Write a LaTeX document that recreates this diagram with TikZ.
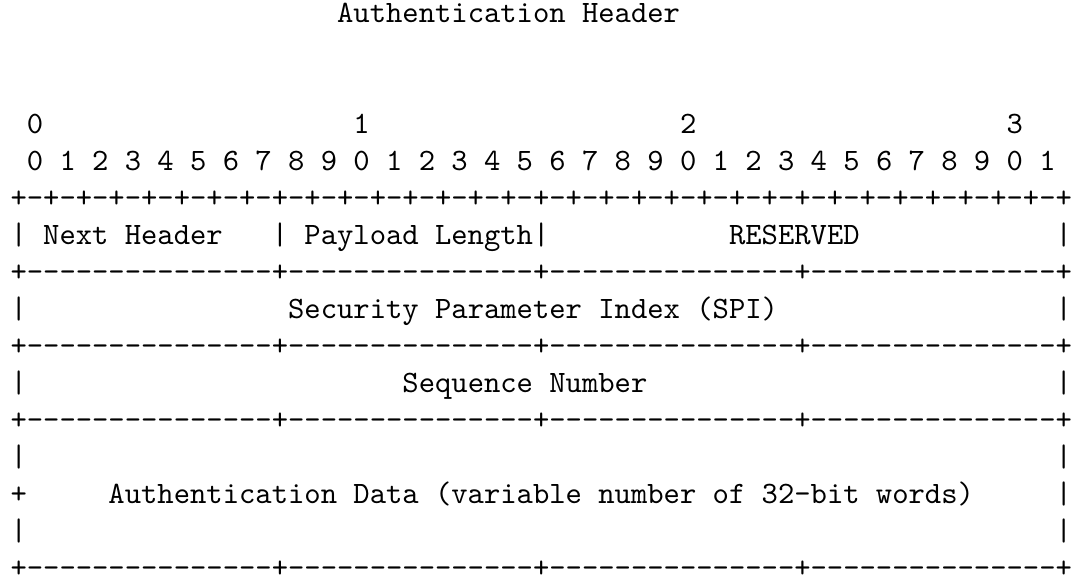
\documentclass[tikz,border=0pt]{standalone}
\usepackage{tikz}
\def\mycolw{5.25pt}   % width of one typewriter column
\def\mylinh{11.9pt}   % distance between two text lines
\newcommand{\bitrule}{+-+-+-+-+-+-+-+-+-+-+-+-+-+-+-+-+-+-+-+-+-+-+-+-+-+-+-+-+-+-+-+-+}
\newcommand{\wordrule}{+---------------+---------------+---------------+---------------+}
\tikzset{
  font=\ttfamily,
  ascii grid/.style={
    x=\mycolw,
    y=-\mylinh
  },
  txt/.style={
    anchor=base west,
    inner sep=0pt,
    outer sep=0pt
  }
}

\begin{document}
\begin{tikzpicture}[ascii grid]
\useasboundingbox (-3.38pt,7.2pt) rectangle ++(346.57pt,-187.43pt);
% Title
\node[txt] (title) at (20,0) {Authentication Header};
% Bit numbers
\foreach \d in {0,...,3}
  \node[txt] (tens-\d) at (1+20*\d,3) {\d};
\foreach \k in {0,...,31} {
  \pgfmathtruncatemacro{\dig}{mod(\k,10)}
  \node[txt] (bit-\k) at (1+2*\k,4) {\dig};
}
% Rules
\node[txt] (rule-top) at (0,5)  {\bitrule};
\node[txt] (rule-a)   at (0,7)  {\wordrule};
\node[txt] (rule-b)   at (0,9)  {\wordrule};
\node[txt] (rule-c)   at (0,11) {\wordrule};
\node[txt] (rule-end) at (0,15) {\wordrule};
% Side bars
\foreach \r in {6,8,10,12,14} {
  \node[txt] (left-\r)  at (0,\r)  {|};
  \node[txt] (right-\r) at (64,\r) {|};
}
\node[txt] (left-13)  at (0,13)  {+};
\node[txt] (right-13) at (64,13) {|};
% First word
\node[txt] (nxt)   at (2,6)  {Next Header};
\node[txt] (bar-a) at (16,6) {|};
\node[txt] (plen)  at (18,6) {Payload Length};
\node[txt] (bar-b) at (32,6) {|};
\node[txt] (resv)  at (44,6) {RESERVED};
% Other words
\node[txt] (spi)  at (17,8)  {Security Parameter Index (SPI)};
\node[txt] (seq)  at (24,10) {Sequence Number};
\node[txt] (auth) at (6,13)  {Authentication Data (variable number of 32-bit words)};
\end{tikzpicture}
\end{document}
